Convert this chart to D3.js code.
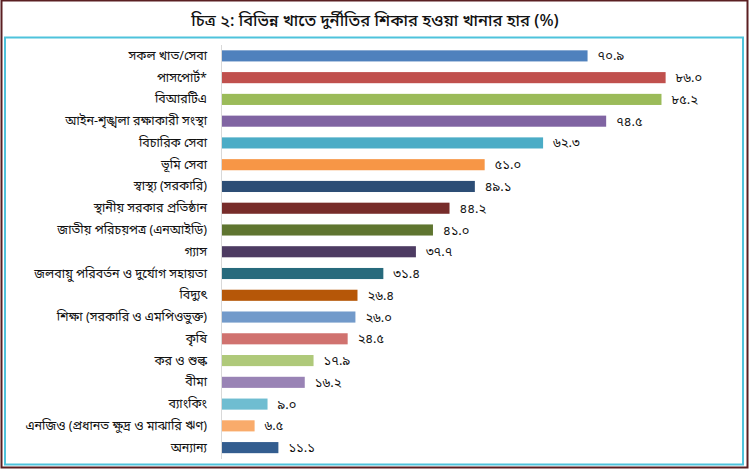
<!DOCTYPE html>
<html>
<head>
<meta charset="utf-8">
<script src="https://cdn.jsdelivr.net/npm/d3@7"></script>
<style>
    body { margin: 0; background: #fff; }
    svg { display: block; }
    text { font-family: "Noto Sans Bengali", "Lohit Bengali", "Noto Serif Bengali", "Noto Sans", sans-serif; }
</style>
</head>
<body>
<svg id="chart" width="750" height="470"></svg>
<script>
var title = "চিত্র ২: বিভিন্ন খাতে দুর্নীতির শিকার হওয়া খানার হার (%)";

var sectors = [
    "সকল খাত/সেবা",
    "পাসপোর্ট*",
    "বিআরটিএ",
    "আইন-শৃঙ্খলা রক্ষাকারী সংস্থা",
    "বিচারিক সেবা",
    "ভূমি সেবা",
    "স্বাস্থ্য (সরকারি)",
    "স্থানীয় সরকার প্রতিষ্ঠান",
    "জাতীয় পরিচয়পত্র (এনআইডি)",
    "গ্যাস",
    "জলবায়ু পরিবর্তন ও দুর্যোগ সহায়তা",
    "বিদ্যুৎ",
    "শিক্ষা (সরকারি ও এমপিওভুক্ত)",
    "কৃষি",
    "কর ও শুল্ক",
    "বীমা",
    "ব্যাংকিং",
    "এনজিও (প্রধানত ক্ষুদ্র ও মাঝারি ঋণ)",
    "অন্যান্য"
];

var rates = [70.9, 86.0, 85.2, 74.5, 62.3, 51.0, 49.1, 44.2, 41.0, 37.7, 31.4, 26.4, 26.0, 24.5, 17.9, 16.2, 9.0, 6.5, 11.1];

var barColors = [
    "#4f81bd", "#c0504d", "#9bbb59", "#8064a2", "#4bacc6", "#f79646",
    "#2c4d75", "#772c2a", "#5f7530", "#4d3b62", "#276a7c", "#b65708",
    "#729aca", "#d0726f", "#afc97a", "#9983b5", "#6fbdd1", "#f9ab6b",
    "#335d8f"
];

var bnDigits = "০১২৩৪৫৬৭৮৯";

function toBangla(v) {
    return v.toFixed(1).replace(/[0-9]/g, d => bnDigits[+d]);
}

function drawChart() {
    var svg = d3.select("#chart");

    // frames
    svg.append("rect")
        .attr("x", 1.5).attr("y", 0.5)
        .attr("width", 746).attr("height", 467)
        .attr("fill", "none")
        .attr("stroke", "#5a1f22")
        .attr("stroke-width", 2);
    svg.append("rect")
        .attr("x", 5).attr("y", 37.5)
        .attr("width", 738).attr("height", 427)
        .attr("fill", "none")
        .attr("stroke", "#4fc3dc")
        .attr("stroke-width", 2);

    svg.append("text")
        .attr("x", 375)
        .attr("y", 26)
        .attr("text-anchor", "middle")
        .attr("font-size", 16.5)
        .attr("font-weight", 500)
        .attr("fill", "#111")
        .text(title);

    var x = d3.scaleLinear().domain([0, 100]).range([221, 738]);
    var y = d3.scaleBand()
        .domain(sectors)
        .range([45, 458.5])
        .paddingInner(0.49)
        .paddingOuter(0.245);

    var rows = sectors.map((s, i) => ({ name: s, value: rates[i], color: barColors[i] }));

    svg.append("g")
        .selectAll("rect")
        .data(rows)
        .join("rect")
        .attr("x", x(0))
        .attr("y", d => y(d.name))
        .attr("width", d => x(d.value) - x(0))
        .attr("height", y.bandwidth())
        .attr("fill", d => d.color);

    // category axis
    var axis = svg.append("g")
        .attr("transform", "translate(" + x(0) + ",0)")
        .call(d3.axisLeft(y).tickSize(0).tickPadding(14));
    axis.select(".domain").attr("stroke", "#d9d9d9").attr("d", "M0.5,45V459");
    axis.selectAll("text")
        .attr("font-size", 12.5)
        .attr("fill", "#111");

    svg.append("g")
        .selectAll("text")
        .data(rows)
        .join("text")
        .attr("x", d => x(d.value) + 10)
        .attr("y", d => y(d.name) + y.bandwidth() / 2)
        .attr("dy", "0.35em")
        .attr("font-size", 13)
        .attr("fill", "#111")
        .text(d => toBangla(d.value));
}

drawChart();
</script>
</body>
</html>
